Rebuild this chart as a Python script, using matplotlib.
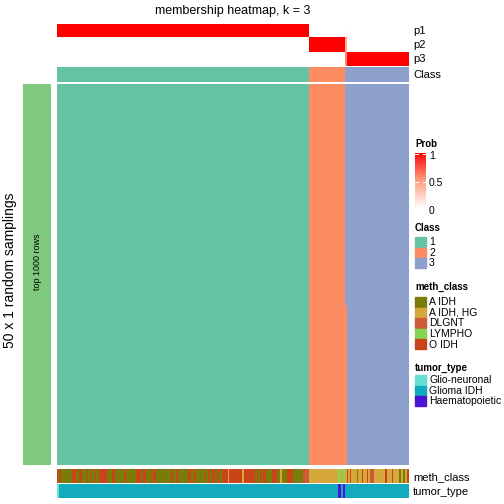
import numpy as np
import matplotlib
matplotlib.use("Agg")
import matplotlib.pyplot as plt
from matplotlib.colors import ListedColormap, LinearSegmentedColormap
from matplotlib.patches import Rectangle

plt.rcParams['font.family'] = ['Liberation Sans', 'DejaVu Sans']

# ---- data ----
n_class1 = 252
n_class2 = 36
n_mixed = 2          # samples split between class 2 and class 3
n_class3 = 62
n_samplings = 50
n_mixed_as3 = 29     # samplings putting the mixed samples in class 3
mixed_prob = [0.02, 0.42, 0.56]
mixed_class = 3

class_names = ["1", "2", "3"]
class_colors = ["#66C2A5", "#FC8D62", "#8DA0CB"]

meth_names = ["A IDH", "A IDH, HG", "DLGNT", "LYMPHO", "O IDH"]
meth_colors = ["#7A7C0A", "#D6A73A", "#CD5B3A", "#84D652", "#C9441B"]
# (category index, number of samples), left to right
meth_runs = [
    (4, 1), (0, 1), (4, 2), (0, 11), (4, 4), (0, 3), (4, 3), (0, 5), (4, 1), (0, 3),
    (4, 1), (0, 3), (4, 1), (0, 3), (4, 8), (0, 5), (4, 3), (0, 9), (4, 2), (0, 10),
    (4, 5), (0, 2), (4, 3),
    (0, 4), (4, 1), (0, 2), (4, 3), (0, 15), (4, 2), (0, 3), (4, 2), (0, 10), (4, 3),
    (0, 3), (4, 2), (0, 9), (4, 1), (0, 2), (4, 2), (0, 2), (4, 3), (0, 2), (4, 2),
    (0, 3), (4, 3),
    (4, 3), (1, 1), (4, 13), (1, 2), (4, 11), (0, 2), (4, 1), (0, 2), (4, 2), (0, 1),
    (4, 3), (0, 6), (4, 5), (0, 3), (1, 2), (0, 5), (4, 6), (0, 10), (2, 6),
    (1, 29), (3, 3), (1, 2), (3, 2),
    (1, 2), (4, 1), (1, 2), (4, 1), (1, 6), (0, 1), (1, 4), (4, 1), (1, 4), (4, 1),
    (1, 2), (2, 4), (1, 11), (4, 2), (1, 5), (4, 1), (1, 6), (0, 2), (1, 2), (0, 2),
    (1, 2), (4, 2),
]

tumor_names = ["Glio-neuronal", "Glioma IDH", "Haematopoietic"]
tumor_colors = ["#66E0D2", "#11AABF", "#4B14D2"]
tumor_runs = [(0, 2), (1, 279), (2, 3), (1, 2), (2, 2), (1, 64)]

# ---- build matrices ----
N = n_class1 + n_class2 + n_mixed + n_class3
cls = np.array([1] * n_class1 + [2] * n_class2 + [mixed_class] * n_mixed + [3] * n_class3)
prob = np.zeros((3, N))
for i, c in enumerate(cls):
    prob[c - 1, i] = 1.0
mix_idx = np.arange(n_class1 + n_class2, n_class1 + n_class2 + n_mixed)
for j in mix_idx:
    prob[:, j] = mixed_prob

member = np.tile(cls, (n_samplings, 1))
for j in mix_idx:
    member[:n_mixed_as3, j] = 3
    member[n_mixed_as3:, j] = 2

meth = np.concatenate([[k] * n for k, n in meth_runs])
tumor = np.concatenate([[k] * n for k, n in tumor_runs])

# ---- figure ----
W = H = 504
fig = plt.figure(figsize=(5.04, 5.04), dpi=100)


def add_ax(x0, y0, x1, y1):
    ax = fig.add_axes([x0 / W, 1 - y1 / H, (x1 - x0) / W, (y1 - y0) / H])
    ax.set_axis_off()
    return ax


def fx(x):
    return x / W


def fy(y):
    return 1 - y / H


prob_cmap = LinearSegmentedColormap.from_list("prob", ["#FFFFFF", "#FF9E81", "#FF0000"])
class_cmap = ListedColormap(class_colors)
meth_cmap = ListedColormap(meth_colors)
tumor_cmap = ListedColormap(tumor_colors)

L, R = 57, 409
ax = add_ax(L, 24, R, 66)
ax.imshow(prob, aspect="auto", cmap=prob_cmap, vmin=0, vmax=1, interpolation="nearest")

ax = add_ax(L, 67, R, 82)
ax.imshow(cls[None, :] - 1, aspect="auto", cmap=class_cmap, vmin=0, vmax=2, interpolation="nearest")

ax = add_ax(L, 84, R, 465)
ax.imshow(member - 1, aspect="auto", cmap=class_cmap, vmin=0, vmax=2, interpolation="nearest")

ax = add_ax(23, 84, 51, 465)
ax.add_patch(Rectangle((0, 0), 1, 1, color="#7FC97F"))
ax.set_xlim(0, 1)
ax.set_ylim(0, 1)

ax = add_ax(L, 469, R, 483)
ax.imshow(meth[None, :], aspect="auto", cmap=meth_cmap, vmin=0, vmax=4, interpolation="nearest")

ax = add_ax(L, 484, R, 498)
ax.imshow(tumor[None, :], aspect="auto", cmap=tumor_cmap, vmin=0, vmax=2, interpolation="nearest")

# texts
fig.text(fx(233), fy(11), "membership heatmap, k = 3", ha="center", va="center", fontsize=9)
for lab, y in zip(["p1", "p2", "p3", "Class"], [31, 45, 59, 75]):
    fig.text(fx(413), fy(y), lab, ha="left", va="center", fontsize=8)
fig.text(fx(413), fy(477), "meth_class", ha="left", va="center", fontsize=8)
fig.text(fx(413), fy(492), "tumor_type", ha="left", va="center", fontsize=8)
fig.text(fx(10), fy(270), "50 x 1 random samplings", ha="center", va="center",
         rotation=90, fontsize=10)
fig.text(fx(37), fy(262), "top 1000 rows", ha="center", va="center", rotation=90, fontsize=6.5)

# legends
lx = 415
fig.text(fx(lx), fy(144), "Prob", fontsize=7, fontweight="bold", va="center")
cax = add_ax(lx, 153, 426, 209)
grad = np.linspace(1, 0, 100)[:, None]
cax.imshow(grad, aspect="auto", cmap=prob_cmap, vmin=0, vmax=1, extent=(0, 1, 0, 1))
cax.set_xlim(0, 1)
cax.set_ylim(0, 1)
for v in [0.5, 1.0]:
    cax.plot([0, 0.25], [v * 0.98, v * 0.98], color="white", lw=0.7)
    cax.plot([0.75, 1], [v * 0.98, v * 0.98], color="white", lw=0.7)
for v, y in zip(["1", "0.5", "0"], [156, 183, 211]):
    fig.text(fx(429), fy(y), v, fontsize=7.5, va="center")


def legend_block(title, ty, names, colors, y0, step=10.6):
    fig.text(fx(lx), fy(ty), title, fontsize=7, fontweight="bold", va="center")
    for i, (n, c) in enumerate(zip(names, colors)):
        yt = y0 + i * step
        fig.patches.append(Rectangle((fx(lx), fy(yt + step - 0.6)), 10.5 / W, (step - 0.6) / H,
                                     transform=fig.transFigure, color=c))
        fig.text(fx(429), fy(yt + step / 2), n, fontsize=7.5, va="center")


legend_block("Class", 228, class_names, class_colors, 237)
legend_block("meth_class", 287, meth_names, meth_colors, 297)
legend_block("tumor_type", 368, tumor_names, tumor_colors, 375)

fig.savefig("out.png", dpi=100)
